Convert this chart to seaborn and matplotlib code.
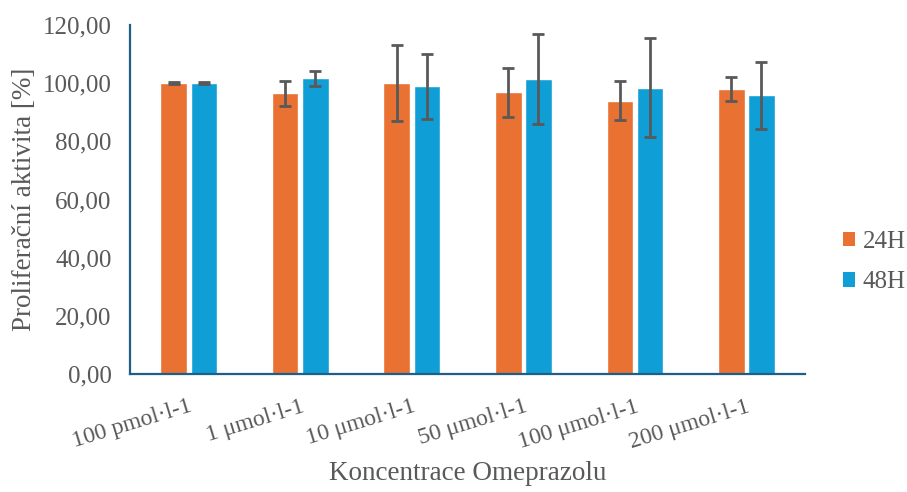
import matplotlib
matplotlib.use("Agg")
import matplotlib.pyplot as plt
import seaborn as sns
import pandas as pd
import numpy as np
from matplotlib.ticker import FuncFormatter, MultipleLocator
from matplotlib.patches import Patch

# ---- data ----
categories = ["100 pmol·l-1", "1 μmol·l-1", "10 μmol·l-1",
              "50 μmol·l-1", "100 μmol·l-1", "200 μmol·l-1"]
series = ["24H", "48H"]
mean_24 = [100.0, 96.5, 100.1, 96.9, 94.0, 97.9]
err_24 = [0.3, 4.25, 13.0, 8.5, 6.6, 4.1]
mean_48 = [100.0, 101.7, 99.0, 101.5, 98.5, 95.8]
err_48 = [0.3, 2.6, 11.2, 15.6, 17.0, 11.4]
yticks = [0, 20, 40, 60, 80, 100, 120]

colors = ["#E97132", "#0F9ED5"]
text_color = "#595959"
axis_color = "#1d5f88"

df = pd.DataFrame({
    "Koncentrace": categories * 2,
    "Cas": [series[0]] * len(categories) + [series[1]] * len(categories),
    "Hodnota": mean_24 + mean_48,
})
errs = {series[0]: err_24, series[1]: err_48}

sns.set_style("white")
plt.rcParams["font.family"] = ["Liberation Serif", "DejaVu Serif"]

fig = plt.figure(figsize=(9.07, 4.92), dpi=100)
ax = fig.add_axes([0.143, 0.240, 0.745, 0.709])

sns.barplot(data=df, x="Koncentrace", y="Hodnota", hue="Cas",
            palette=colors, saturation=1, width=0.54, gap=0.12,
            errorbar=None, ax=ax, legend=False)

for cont, s in zip(ax.containers, series):
    xs = [b.get_x() + b.get_width() / 2 for b in cont.patches]
    ys = [b.get_height() for b in cont.patches]
    ax.errorbar(xs, ys, yerr=errs[s], fmt="none", ecolor="#595959",
                elinewidth=2.0, capsize=4.5, capthick=2.0, zorder=5)

ax.set_ylim(0, 120)
ax.set_yticks(yticks)
ax.yaxis.set_major_formatter(FuncFormatter(lambda v, p: f"{v:.2f}".replace(".", ",")))

for side in ["top", "right"]:
    ax.spines[side].set_visible(False)
for side in ["left", "bottom"]:
    ax.spines[side].set_color(axis_color)
    ax.spines[side].set_linewidth(1.6)

ax.tick_params(axis="y", direction="out", length=5, width=1.4, color=axis_color,
               labelsize=18, labelcolor=text_color, pad=8)
ax.tick_params(axis="x", length=0, labelsize=17, labelcolor=text_color, pad=16)
for lbl in ax.get_xticklabels():
    lbl.set_rotation(17)
    lbl.set_ha("right")
    lbl.set_rotation_mode("anchor")

ax.set_xlabel("Koncentrace Omeprazolu", fontsize=19.5, color=text_color, labelpad=6)
ax.set_ylabel("Proliferační aktivita [%]", fontsize=19.5, color=text_color, labelpad=4)

handles = [Patch(facecolor=c, edgecolor="none") for c in colors]
ax.legend(handles, series, loc="center left", bbox_to_anchor=(0.918, 0.4675),
          bbox_transform=fig.transFigure, frameon=False, fontsize=18,
          labelcolor=text_color, handlelength=0.5, handleheight=0.5,
          handletextpad=0.3, labelspacing=0.75, borderaxespad=0)

fig.savefig("out.png", dpi=100)
